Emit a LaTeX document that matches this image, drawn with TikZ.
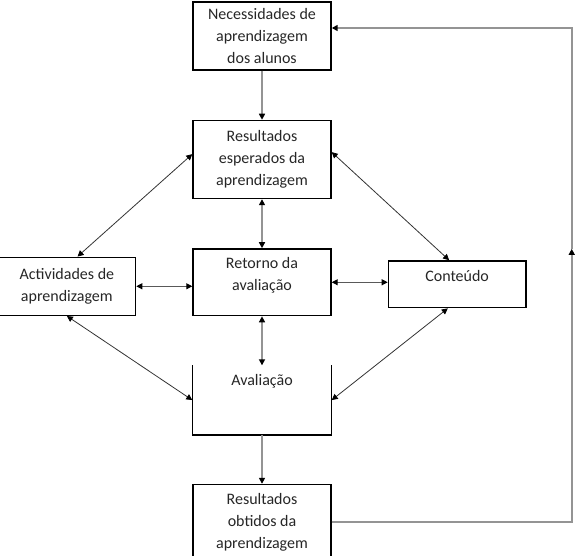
\documentclass[tikz,border=0pt]{standalone}
\usepackage{fontspec}
\setmainfont{Carlito}
\usetikzlibrary{positioning, arrows.meta}
\tikzset{box/.style={draw, line width=1.1pt, align=center, minimum width=103.5pt, inner sep=2pt, text=black!85, font=\fontsize{12}{16.5}\selectfont},
flow/.style={draw=black!42, line width=1.4pt, ->},
twoway/.style={draw=black!42, line width=1.4pt, <->},
side/.style={draw=black!65, line width=0.8pt, <->},
diag/.style={draw=black!80, line width=0.6pt, <->}}

\begin{document}
\begin{tikzpicture}[node distance=36.75pt and 42pt, >={Triangle[length=4.5pt, width=4.5pt, color=black]}]
  \useasboundingbox (0,0) rectangle (431.25pt,-417pt);
  \node[box, minimum height=51pt] (nec) at (196.5pt,-27pt) {Necessidades de\\ aprendizagem\\ dos alunos};
  \node[box, minimum height=58.5pt, below=of nec] (esp) {Resultados\\ esperados da\\ aprendizagem};
  \node[box, minimum height=50pt, text depth=13pt, below=of esp] (ret) {Retorno da\\ avaliação};
  \node[box, draw=none, minimum height=51pt, text depth=30pt, below=of ret] (ava) {Avaliação};
  \node[box, minimum height=56pt, below=of ava] (obt) {Resultados\\ obtidos da\\ aprendizagem};
  \node[box, minimum width=103pt, minimum height=43.5pt, left=of ret, yshift=-3pt] (act) {Actividades de\\ aprendizagem};
  \node[box, minimum width=103pt, minimum height=35pt, text depth=12pt, right=of ret, yshift=-1.5pt] (con) {Conteúdo};
  \draw[line width=1.1pt] (ava.north west) |- (ava.south east) -- (ava.north east);
  \draw[flow] (nec) -- (esp);
  \draw[twoway] (esp) -- (ret);
  \draw[twoway] (ret) -- (ava);
  \draw[flow] (ava) -- (obt);
  \draw[side] (act.east) -- (act.east -| ret.west);
  \draw[side] (ret.east) -- (ret.east -| con.west);
  \draw[diag] ([xshift=8pt]act.north) -- ([yshift=4pt]esp.west);
  \draw[diag] ([yshift=5.5pt]esp.east) -- ([xshift=-6pt]con.north);
  \draw[diag] (act.south) -- (ava.west);
  \draw[diag] ([xshift=-7pt]con.south) -- (ava.east);
  \coordinate[right=180pt of obt.east] (corner);
  \coordinate[above=204.75pt of corner] (mid);
  \draw[flow] (mid) |- ([yshift=6pt]nec.east);
  \draw[flow] (obt.east) -- (corner) -- (mid);
\end{tikzpicture}
\end{document}
